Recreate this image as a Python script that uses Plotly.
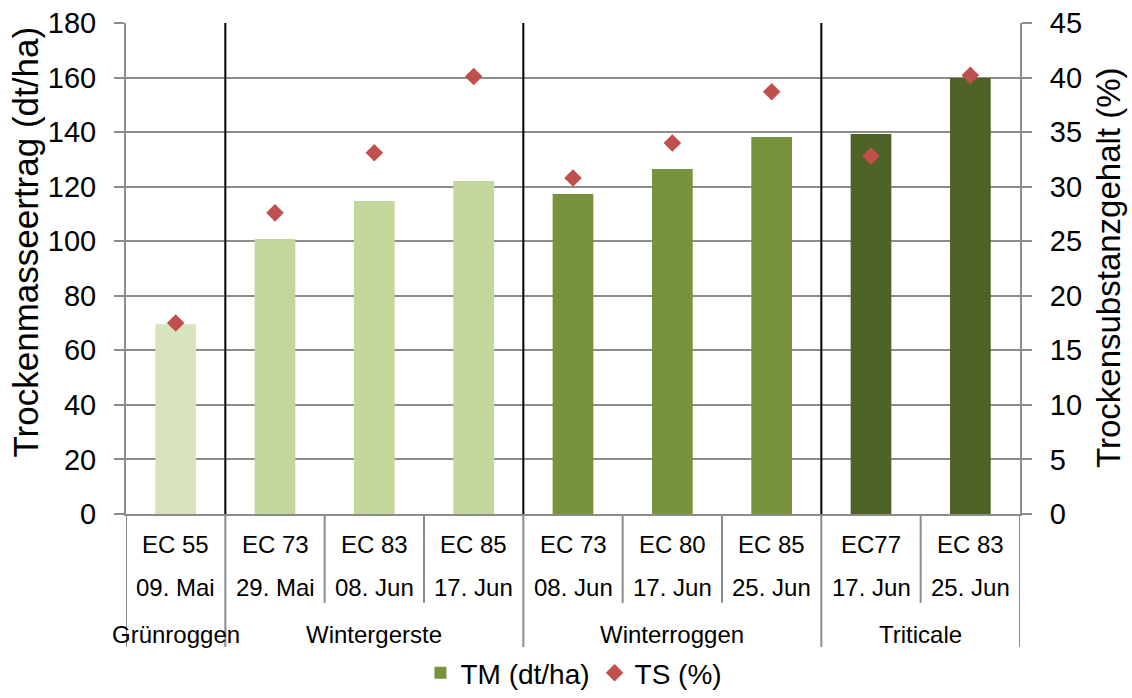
import plotly.graph_objects as go

# Harvest stages, sampling dates and crops for each bar
ec_stages = ["EC 55", "EC 73", "EC 83", "EC 85", "EC 73", "EC 80", "EC 85", "EC77", "EC 83"]
dates = ["09. Mai", "29. Mai", "08. Jun", "17. Jun", "08. Jun", "17. Jun", "25. Jun", "17. Jun", "25. Jun"]
crops = ["Grünroggen", "Wintergerste", "Wintergerste", "Wintergerste",
         "Winterroggen", "Winterroggen", "Winterroggen", "Triticale", "Triticale"]

# Dry matter yield (dt/ha) and dry substance content (%)
tm_values = [69.6, 100.8, 114.7, 122.1, 117.3, 126.5, 138.2, 139.3, 159.8]
ts_values = [17.5, 27.6, 33.1, 40.1, 30.8, 34.0, 38.7, 32.8, 40.2]

crop_order = ["Grünroggen", "Wintergerste", "Winterroggen", "Triticale"]
crop_colors = {
    "Grünroggen": "#D7E4BD",
    "Wintergerste": "#C3D69B",
    "Winterroggen": "#77933C",
    "Triticale": "#4F6228",
}

FONT = "Liberation Sans, Arial, sans-serif"
GRID = "#8C8C8C"

positions = list(range(len(tm_values)))
fig = go.Figure()

for crop in crop_order:
    idx = [i for i, c in enumerate(crops) if c == crop]
    fig.add_trace(go.Bar(
        x=[positions[i] for i in idx],
        y=[tm_values[i] for i in idx],
        width=0.41,
        marker=dict(color=crop_colors[crop], line=dict(width=0)),
        name="TM (dt/ha)",
        showlegend=(crop == "Winterroggen"),
        legendrank=1,
        yaxis="y",
    ))

fig.add_trace(go.Scatter(
    x=positions,
    y=ts_values,
    mode="markers",
    marker=dict(symbol="diamond", size=13.5, color="#C0504D"),
    name="TS (%)",
    legendrank=2,
    yaxis="y2",
))

shapes = []
# group separators inside the plot area
group_bounds = [0.5, 3.5, 6.5]
for b in group_bounds:
    shapes.append(dict(type="line", xref="x", yref="paper", x0=b, x1=b, y0=0, y1=1,
                       line=dict(color="black", width=2)))
# separators in the category label area
for b in [-0.5] + group_bounds + [8.5]:
    shapes.append(dict(type="line", xref="x", yref="paper", x0=b, x1=b, y0=0, y1=-0.271,
                       line=dict(color=GRID, width=2)))
for b in [1.5, 2.5, 4.5, 5.5, 7.5]:
    shapes.append(dict(type="line", xref="x", yref="paper", x0=b, x1=b, y0=0, y1=-0.181,
                       line=dict(color=GRID, width=2)))

annotations = []
for i in positions:
    annotations.append(dict(x=i, y=-0.0631, xref="x", yref="paper", text=ec_stages[i],
                            showarrow=False, xanchor="center", yanchor="middle",
                            font=dict(family=FONT, size=24, color="black")))
    annotations.append(dict(x=i, y=-0.1507, xref="x", yref="paper", text=dates[i],
                            showarrow=False, xanchor="center", yanchor="middle",
                            font=dict(family=FONT, size=24, color="black")))
for crop in crop_order:
    idx = [i for i, c in enumerate(crops) if c == crop]
    center = (idx[0] + idx[-1]) / 2
    annotations.append(dict(x=center, y=-0.2444, xref="x", yref="paper", text=crop,
                            showarrow=False, xanchor="center", yanchor="middle",
                            font=dict(family=FONT, size=24, color="black")))

annotations.append(dict(x=-0.1119, y=0.555, xref="paper", yref="paper",
                        text="Trockenmasseertrag (dt/ha)", textangle=-90, showarrow=False,
                        xanchor="center", yanchor="middle",
                        font=dict(family=FONT, size=35, color="black")))
annotations.append(dict(x=1.0984, y=0.501, xref="paper", yref="paper",
                        text="Trockensubstanzgehalt (%)", textangle=-90, showarrow=False,
                        xanchor="center", yanchor="middle",
                        font=dict(family=FONT, size=33, color="black")))

fig.update_layout(
    width=1132, height=698,
    margin=dict(l=126, r=112, t=23, b=184, autoexpand=False),
    paper_bgcolor="white", plot_bgcolor="white",
    barmode="overlay",
    font=dict(family=FONT, color="black"),
    xaxis=dict(range=[-0.5, 8.5], showticklabels=False, showgrid=False, zeroline=False,
               showline=True, linecolor=GRID, linewidth=2, ticks=""),
    yaxis=dict(range=[0, 180], dtick=20, showgrid=True, gridcolor=GRID, gridwidth=2,
               zeroline=False, showline=True, linecolor=GRID, linewidth=2,
               ticks="outside", ticklen=10, tickcolor=GRID, tickwidth=2,
               ticklabelstandoff=12,
               tickfont=dict(family=FONT, size=29, color="black")),
    yaxis2=dict(range=[0, 45], dtick=5, overlaying="y", side="right", showgrid=False,
                zeroline=False, showline=True, linecolor=GRID, linewidth=2,
                ticks="outside", ticklen=10, tickcolor=GRID, tickwidth=2,
                ticklabelstandoff=12,
                tickfont=dict(family=FONT, size=29, color="black")),
    legend=dict(orientation="h", x=0.507, xref="container", xanchor="center",
                y=0.0, yref="container", yanchor="bottom",
                font=dict(family=FONT, size=28, color="black"),
                itemwidth=30, tracegroupgap=0, bgcolor="rgba(0,0,0,0)"),
    shapes=shapes,
    annotations=annotations,
    showlegend=True,
)

fig.write_html("out.html")
